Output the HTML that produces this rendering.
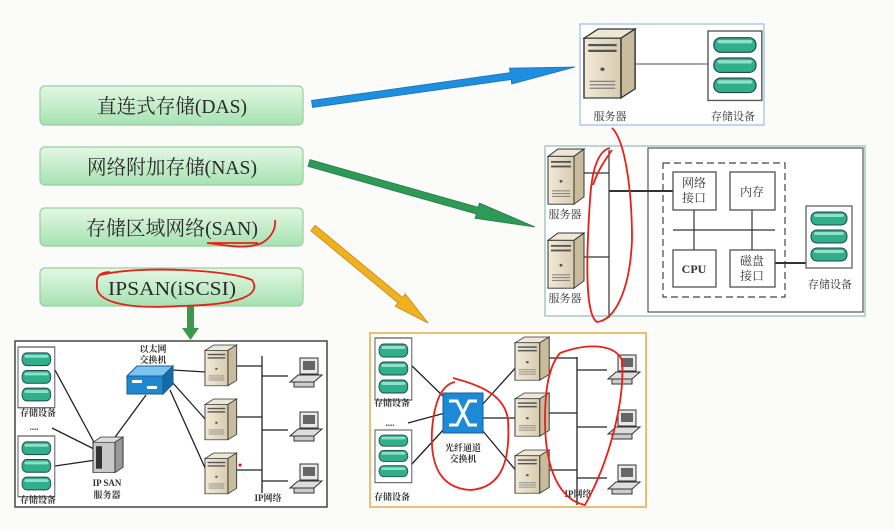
<!DOCTYPE html>
<html><head><meta charset="utf-8"><style>
html,body{margin:0;padding:0;background:#fbfbf9;}
svg{display:block;font-family:"Liberation Serif","Noto Serif CJK SC","Noto Sans CJK SC",serif;}
</style></head><body>
<svg id="s" width="895" height="529" viewBox="0 0 895 529" xmlns="http://www.w3.org/2000/svg">
<defs>
<linearGradient id="btn" x1="0" y1="0" x2="0" y2="1"><stop offset="0" stop-color="#e4f8e4"/><stop offset="1" stop-color="#a6e2b2"/></linearGradient>
<linearGradient id="srvF" x1="0" y1="0" x2="1" y2="0"><stop offset="0" stop-color="#f2ead8"/><stop offset="1" stop-color="#d8ccb0"/></linearGradient>
<g id="srv">
<polygon points="0,8 10,0 36,0 26,8" fill="#efe7d5" stroke="#333" stroke-width="1"/>
<polygon points="26,8 36,0 36,52 26,60" fill="#c9bc9c" stroke="#333" stroke-width="1"/>
<rect x="0" y="8" width="26" height="52" fill="url(#srvF)" stroke="#333" stroke-width="1"/>
<rect x="3" y="13" width="20" height="2" fill="#555"/><rect x="3" y="18" width="20" height="2" fill="#555"/>
<circle cx="13" cy="35" r="1.5" fill="#555"/>
<rect x="4" y="45" width="18" height="1" fill="#777"/><rect x="4" y="48" width="18" height="1" fill="#777"/><rect x="4" y="51" width="18" height="1" fill="#777"/>
</g>
<g id="disk"><rect x="0" y="0" width="36" height="13" rx="6" fill="#2fb08a" stroke="#245" stroke-width="1"/><rect x="3" y="2" width="30" height="3" rx="2" fill="#8fe0c8"/></g>
<g id="stor"><rect x="0" y="0" width="46" height="62" fill="#fff" stroke="#555" stroke-width="1.2"/><use href="#disk" x="5" y="6"/><use href="#disk" x="5" y="24"/><use href="#disk" x="5" y="42"/></g>
<g id="pc"><rect x="10" y="0" width="18" height="16" fill="#e8e8e8" stroke="#333"/><rect x="13" y="3" width="12" height="9" fill="#666"/><polygon points="0,24 8,17 32,17 24,24" fill="#ddd" stroke="#333"/><rect x="4" y="24" width="20" height="5" fill="#ccc" stroke="#333"/></g>
</defs>

<g stroke="#98cf9f" stroke-width="1.2" fill="url(#btn)">
<rect x="40" y="86" width="263" height="39" rx="5"/>
<rect x="40" y="147" width="263" height="38" rx="5"/>
<rect x="40" y="208" width="263" height="38" rx="5"/>
<rect x="40" y="268" width="263" height="38" rx="5"/>
</g>
<g font-size="20" fill="#2a2a2a" text-anchor="middle">
<text x="172" y="113" textLength="150" lengthAdjust="spacingAndGlyphs">直连式存储(DAS)</text>
<text x="172" y="174" textLength="170" lengthAdjust="spacingAndGlyphs">网络附加存储(NAS)</text>
<text x="172" y="235" textLength="172" lengthAdjust="spacingAndGlyphs">存储区域网络(SAN)</text>
<text x="172" y="295" textLength="128" lengthAdjust="spacingAndGlyphs">IPSAN(iSCSI)</text>
</g>

<g id="arrows"></g>

<!-- DAS -->
<rect x="580" y="24" width="184" height="101" fill="#fff" stroke="#a9c9ee" stroke-width="1.5"/>
<line x1="630" y1="64" x2="708" y2="64" stroke="#555"/>
<use href="#srv" transform="translate(584 29) scale(1.42 1.15)"/>
<use href="#stor" transform="translate(708 31) scale(1.17 1.12)"/>
<g font-size="11" fill="#333" text-anchor="middle"><text x="610" y="120">服务器</text><text x="733" y="120">存储设备</text></g>

<!-- NAS -->
<rect x="545" y="146" width="320" height="170" fill="#fff" stroke="#a8c8c0" stroke-width="1.5"/>
<rect x="648" y="148" width="215" height="164" fill="#fff" stroke="#555" stroke-width="1.2"/>
<rect x="663" y="163" width="122" height="134" fill="none" stroke="#444" stroke-width="1.2" stroke-dasharray="7,4"/>
<use href="#srv" transform="translate(548 149) scale(1 0.92)"/><use href="#srv" transform="translate(548 233) scale(1 0.92)"/>
<g stroke="#333" stroke-width="1.2">
<line x1="609" y1="150" x2="609" y2="318"/><line x1="584" y1="173" x2="609" y2="173"/><line x1="584" y1="257" x2="609" y2="257"/>
<line x1="609" y1="191" x2="673" y2="191" stroke-width="2"/>
<line x1="673" y1="230" x2="775" y2="230"/><line x1="694" y1="210" x2="694" y2="250"/><line x1="752" y1="210" x2="752" y2="250"/>
<line x1="775" y1="263" x2="806" y2="263" stroke-width="2"/>
</g>
<g fill="#fff" stroke="#444" stroke-width="1.2">
<rect x="673" y="172" width="43" height="38"/><rect x="730" y="172" width="45" height="38"/>
<rect x="673" y="250" width="43" height="37"/><rect x="730" y="250" width="45" height="37"/>
</g>
<use href="#stor" x="806" y="206"/>
<g font-size="12" fill="#333" text-anchor="middle">
<text x="694" y="187">网络</text><text x="694" y="202">接口</text>
<text x="752" y="196">内存</text>
<text x="694" y="273" font-weight="bold">CPU</text>
<text x="752" y="265">磁盘</text><text x="752" y="280">接口</text>
<text x="830" y="288" font-size="11">存储设备</text>
<text x="565" y="218" font-size="11">服务器</text><text x="565" y="302" font-size="11">服务器</text>
</g>

<polygon points="187,306 194,306 194,328 199,328 190.5,340 182,328 187,328" fill="#3a9a4a"/>

<!-- Bottom left -->
<rect x="15" y="341" width="312" height="166" fill="#fff" stroke="#444" stroke-width="1.5"/>
<g stroke="#222" stroke-width="1.3">
<line x1="55" y1="370" x2="96" y2="446"/><line x1="52" y1="428" x2="96" y2="450"/><line x1="55" y1="466" x2="96" y2="460"/>
<line x1="113" y1="440" x2="146" y2="395"/>
<line x1="172" y1="370" x2="206" y2="372"/><line x1="172" y1="382" x2="206" y2="420"/><line x1="170" y1="390" x2="206" y2="470"/>
<line x1="262" y1="356" x2="262" y2="493"/>
<line x1="236" y1="366" x2="262" y2="366"/><line x1="236" y1="417" x2="262" y2="417"/><line x1="236" y1="470" x2="262" y2="470"/>
<line x1="262" y1="376" x2="288" y2="376"/><line x1="262" y1="430" x2="288" y2="430"/><line x1="262" y1="481" x2="288" y2="481"/>
</g>
<use href="#stor" transform="translate(18 347) scale(0.8 0.98)"/><use href="#stor" transform="translate(18 436) scale(0.8 0.98)"/>
<g transform="translate(93 437) scale(1 0.66)"><polygon points="0,8 8,0 30,0 22,8" fill="#ddd" stroke="#333"/><polygon points="22,8 30,0 30,46 22,54" fill="#999" stroke="#333"/><rect x="0" y="8" width="22" height="46" fill="#c8c8c8" stroke="#333"/><rect x="3" y="14" width="6" height="34" fill="#333"/></g>
<g transform="translate(127 366)"><polygon points="0,10 10,0 46,0 36,10" fill="#7cc4f0" stroke="#1a5a90"/><rect x="0" y="10" width="36" height="18" fill="#1e88d0" stroke="#1a5a90"/><polygon points="36,10 46,0 46,18 36,28" fill="#156aa8" stroke="#1a5a90"/><rect x="5" y="14" width="10" height="3" fill="#fff"/><rect x="20" y="20" width="10" height="3" fill="#fff"/></g>
<use href="#srv" transform="translate(205 345) scale(0.88 0.68)"/><use href="#srv" transform="translate(205 399) scale(0.88 0.68)"/><use href="#srv" transform="translate(205 453) scale(0.88 0.68)"/>
<circle cx="240" cy="465" r="1.5" fill="#e00"/>
<use href="#pc" x="290" y="358"/><use href="#pc" x="290" y="412"/><use href="#pc" x="290" y="464"/>
<g font-size="9" fill="#333" text-anchor="middle" font-weight="bold">
<text x="38" y="416">存储设备</text><text x="38" y="503">存储设备</text><text x="34" y="430">....</text>
<text x="107" y="486">IP SAN</text><text x="107" y="498">服务器</text>
<text x="153" y="352">以太网</text><text x="153" y="363">交换机</text>
<text x="268" y="501">IP网络</text>
</g>

<!-- Bottom middle -->
<rect x="370" y="333" width="276" height="174" fill="#fff" stroke="#e8c070" stroke-width="2"/>
<g stroke="#222" stroke-width="1.3">
<line x1="411" y1="365" x2="445" y2="398"/><line x1="408" y1="423" x2="445" y2="413"/><line x1="411" y1="465" x2="445" y2="428"/>
<line x1="482" y1="405" x2="518" y2="365"/><line x1="482" y1="418" x2="518" y2="418"/><line x1="482" y1="430" x2="518" y2="473"/>
<line x1="577" y1="357" x2="577" y2="505"/>
<line x1="548" y1="358" x2="577" y2="358"/><line x1="548" y1="413" x2="577" y2="413"/><line x1="548" y1="470" x2="577" y2="470"/>
<line x1="577" y1="370" x2="607" y2="370"/><line x1="577" y1="427" x2="607" y2="427"/><line x1="577" y1="478" x2="607" y2="478"/>
</g>
<use href="#stor" transform="translate(375 338) scale(0.8 1)"/><use href="#stor" transform="translate(375 430) scale(0.8 0.85)"/>
<g transform="translate(443 393)"><rect width="40" height="40" fill="#1e8ad6" stroke="#145c96"/><path d="M6,8 L14,8 L26,32 L34,32 M6,32 L14,32 L26,8 L34,8" stroke="#fff" stroke-width="3" fill="none"/></g>
<use href="#srv" transform="translate(515 337) scale(0.95 0.72)"/><use href="#srv" transform="translate(515 393) scale(0.95 0.72)"/><use href="#srv" transform="translate(515 450) scale(0.95 0.72)"/>
<use href="#pc" x="608" y="355"/><use href="#pc" x="608" y="410"/><use href="#pc" x="608" y="465"/>
<g font-size="9" fill="#333" text-anchor="middle" font-weight="bold">
<text x="392" y="406">存储设备</text><text x="392" y="500">存储设备</text><text x="390" y="426">....</text>
<text x="463" y="451">光纤通道</text><text x="463" y="462">交换机</text>
<text x="578" y="497">IP网络</text>
</g>

<g fill="none" stroke="#e8201a" stroke-width="1.8">
<path d="M207,243 C225,245 245,250 262,243 C272,237 276,228 275,220 M207,243 L258,243"/>
<path d="M100,275 C140,265 230,270 252,280 C262,295 240,305 180,306 C120,310 95,300 97,285 C96,276 100,272 110,272"/>
<path d="M612,128 C625,140 632,190 632,240 C630,290 615,320 597,322 C585,315 586,260 590,200 C592,165 600,150 610,148 M593,185 C598,170 605,160 612,150"/>
<path d="M453,378 C480,385 505,395 508,420 C510,455 505,488 470,490 C440,488 430,465 432,430 C434,405 440,385 455,382"/>
<path d="M560,353 C590,342 615,345 622,360 C625,400 610,460 585,505 C560,500 545,470 545,420 C545,385 550,365 560,353"/>
</g>
</svg>
<script>
function arrow(x1,y1,x2,y2,sw,hw,hl,fill,stroke){
 var dx=x2-x1,dy=y2-y1,L=Math.hypot(dx,dy),ux=dx/L,uy=dy/L,nx=-uy,ny=ux;
 var bx=x2-ux*hl,by=y2-uy*hl;
 var p=[[x1+nx*sw,y1+ny*sw],[bx+nx*sw,by+ny*sw],[bx+nx*hw,by+ny*hw],[x2,y2],[bx-nx*hw,by-ny*hw],[bx-nx*sw,by-ny*sw],[x1-nx*sw,y1-ny*sw]];
 var e=document.createElementNS("http://www.w3.org/2000/svg","polygon");
 e.setAttribute("points",p.map(function(q){return q[0].toFixed(1)+","+q[1].toFixed(1)}).join(" "));
 e.setAttribute("fill",fill);e.setAttribute("stroke",stroke);e.setAttribute("stroke-width","0.8");
 document.getElementById("arrows").appendChild(e);
}
arrow(312,104,575,67,3.5,8,65,"#1e8ee0","#1a70b0");
arrow(309,163,535,227,3.5,8,60,"#2e9a58","#237a45");
arrow(313,228,428,323,3.5,8,36,"#f0b020","#c08a10");
</script>
</body></html>
